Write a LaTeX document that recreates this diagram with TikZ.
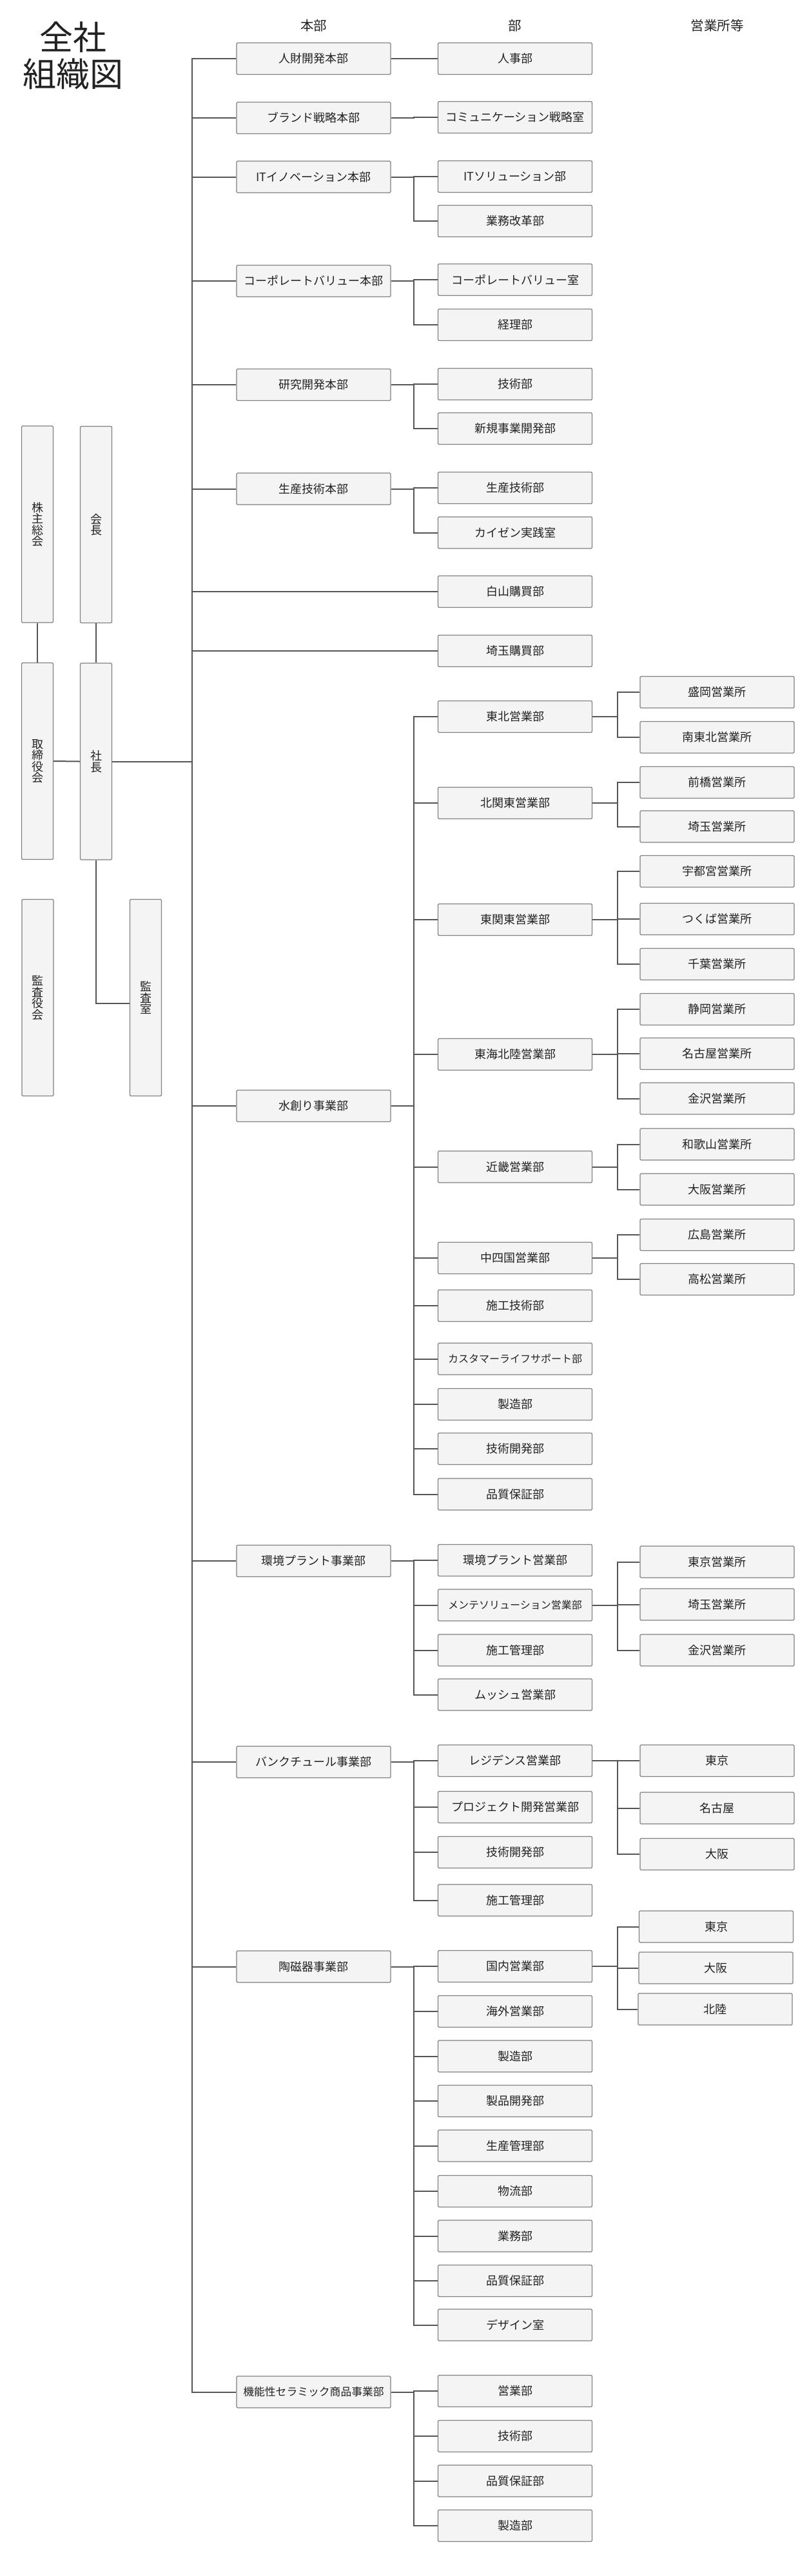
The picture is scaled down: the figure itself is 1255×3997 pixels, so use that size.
\documentclass[tikz,border=0pt]{standalone}
\usepackage{fontspec}
\setmainfont{Noto Sans CJK JP}
\definecolor{boxfill}{HTML}{F4F4F4}
\definecolor{boxline}{HTML}{808080}
\definecolor{connc}{HTML}{555555}
\definecolor{txt}{HTML}{222222}
\tikzset{
  unitbox/.style={draw=boxline, fill=boxfill, line width=1.2pt, rounded corners=1.5pt,
    inner sep=0pt, text=txt, align=center, font=\fontsize{18}{20}\selectfont},
  colbox/.style={unitbox, minimum width=239pt, minimum height=49pt},
  tallbox/.style={unitbox, minimum width=49pt, minimum height=305pt, font=\fontsize{18}{17.5}\selectfont},
  small/.style={font=\fontsize{16}{18}\selectfont},
  conn/.style={draw=connc, line width=2pt},
  header/.style={text=txt, font=\fontsize{20.5}{22}\selectfont, inner sep=0pt},
  titletext/.style={text=txt, font=\fontsize{52}{57}\selectfont, align=center, inner sep=0pt}
}
\newcommand\orgbranch[3]{\foreach \kid in {#3}{\draw[conn] (#1.east) -- ++(#2,0) |- (\kid.west);}}
\begin{document}
\begin{tikzpicture}[x=1pt,y=-1pt]
\useasboundingbox (0,0) rectangle (1255,3997);
% title and headers
\node[titletext] (title) at (113,86.75) {全社\\組織図};
\node[header] (hdA) at (486.5,40) {本部};
\node[header] (hdB) at (799,40) {部};
\node[header] (hdC) at (1112.5,40) {営業所等};
% left column
\node[tallbox] (share) at (58,813.5) {株\\主\\総\\会};
\node[tallbox] (chair) at (149,814) {会\\長};
\node[tallbox] (board) at (58,1181) {取\\締\\役\\会};
\node[tallbox] (pres) at (149,1181.5) {社\\長};
\node[tallbox] (kansa) at (58.5,1548) {監\\査\\役\\会};
\node[tallbox] (audit) at (226,1548) {監\\査\\室};
% column A
\node[colbox] (h1) at (486.5,91) {人財開発本部};
\node[colbox] (h2) at (486.5,183) {ブランド戦略本部};
\node[colbox] (h3) at (486.5,274.5) {ITイノベーション本部};
\node[colbox] (h4) at (486.5,436) {コーポレートバリュー本部};
\node[colbox] (h5) at (486.5,597) {研究開発本部};
\node[colbox] (h6) at (486.5,758.5) {生産技術本部};
\node[colbox] (h7) at (486.5,1716) {水創り事業部};
\node[colbox] (h8) at (486.5,2422) {環境プラント事業部};
\node[colbox] (h9) at (486.5,2734) {バンクチュール事業部};
\node[colbox] (h10) at (486.5,3051.5) {陶磁器事業部};
\node[colbox, font=\fontsize{16.8}{18}\selectfont] (h11) at (486.5,3711.5) {機能性セラミック商品事業部};
% column B
\node[colbox] (b1) at (799,91) {人事部};
\node[colbox] (b2) at (799,182) {コミュニケーション戦略室};
\node[colbox] (b3) at (799,274) {ITソリューション部};
\node[colbox] (b4) at (799,343) {業務改革部};
\node[colbox] (b5) at (799,434) {コーポレートバリュー室};
\node[colbox] (b6) at (799,504) {経理部};
\node[colbox] (b7) at (799,596) {技術部};
\node[colbox] (b8) at (799,665) {新規事業開発部};
\node[colbox] (b9) at (799,757) {生産技術部};
\node[colbox] (b10) at (799,826.5) {カイゼン実践室};
\node[colbox] (b11) at (799,918) {白山購買部};
\node[colbox] (b12) at (799,1010) {埼玉購買部};
\node[colbox] (b13) at (799,1112) {東北営業部};
\node[colbox] (b14) at (799,1246) {北関東営業部};
\node[colbox] (b15) at (799,1427) {東関東営業部};
\node[colbox] (b16) at (799,1636) {東海北陸営業部};
\node[colbox] (b17) at (799,1810.5) {近畿営業部};
\node[colbox] (b18) at (799,1952) {中四国営業部};
\node[colbox] (b19) at (799,2026) {施工技術部};
\node[colbox, small] (b20) at (799,2108.5) {カスタマーライフサポート部};
\node[colbox] (b21) at (799,2179) {製造部};
\node[colbox] (b22) at (799,2248) {技術開発部};
\node[colbox] (b23) at (799,2318.5) {品質保証部};
\node[colbox] (b24) at (799,2421) {環境プラント営業部};
\node[colbox, small] (b25) at (799,2490.5) {メンテソリューション営業部};
\node[colbox] (b26) at (799,2560.5) {施工管理部};
\node[colbox] (b27) at (799,2629.5) {ムッシュ営業部};
\node[colbox] (b28) at (799,2732) {レジデンス営業部};
\node[colbox] (b29) at (799,2804) {プロジェクト開発営業部};
\node[colbox] (b30) at (799,2874) {技術開発部};
\node[colbox] (b31) at (799,2948.5) {施工管理部};
\node[colbox] (b32) at (799,3051) {国内営業部};
\node[colbox] (b33) at (799,3121) {海外営業部};
\node[colbox] (b34) at (799,3190.5) {製造部};
\node[colbox] (b35) at (799,3260) {製品開発部};
\node[colbox] (b36) at (799,3329.5) {生産管理部};
\node[colbox] (b37) at (799,3400) {物流部};
\node[colbox] (b38) at (799,3469.5) {業務部};
\node[colbox] (b39) at (799,3539) {品質保証部};
\node[colbox] (b40) at (799,3607.5) {デザイン室};
\node[colbox] (b41) at (799,3710) {営業部};
\node[colbox] (b42) at (799,3780) {技術部};
\node[colbox] (b43) at (799,3849.5) {品質保証部};
\node[colbox] (b44) at (799,3919) {製造部};
% column C
\node[colbox] (c1) at (1112.5,1074) {盛岡営業所};
\node[colbox] (c2) at (1112.5,1144) {南東北営業所};
\node[colbox] (c3) at (1112.5,1214) {前橋営業所};
\node[colbox] (c4) at (1112.5,1282.5) {埼玉営業所};
\node[colbox] (c5) at (1112.5,1352) {宇都宮営業所};
\node[colbox] (c6) at (1112.5,1426) {つくば営業所};
\node[colbox] (c7) at (1112.5,1496) {千葉営業所};
\node[colbox] (c8) at (1112.5,1566) {静岡営業所};
\node[colbox] (c9) at (1112.5,1635) {名古屋営業所};
\node[colbox] (c10) at (1112.5,1704.5) {金沢営業所};
\node[colbox] (c11) at (1112.5,1775.5) {和歌山営業所};
\node[colbox] (c12) at (1112.5,1845.5) {大阪営業所};
\node[colbox] (c13) at (1112.5,1916) {広島営業所};
\node[colbox] (c14) at (1112.5,1985) {高松営業所};
\node[colbox] (c15) at (1112.5,2423.5) {東京営業所};
\node[colbox] (c16) at (1112.5,2489.5) {埼玉営業所};
\node[colbox] (c17) at (1112.5,2560.5) {金沢営業所};
\node[colbox] (c18) at (1112.5,2732) {東京};
\node[colbox] (c19) at (1112.5,2805.5) {名古屋};
\node[colbox] (c20) at (1112.5,2877) {大阪};
\node[colbox] (c21) at (1111,2989.5) {東京};
\node[colbox] (c22) at (1110.5,3053.5) {大阪};
\node[colbox] (c23) at (1109.5,3117.5) {北陸};
% left connectors
\draw[conn] (share.south) -- (board.north);
\draw[conn] (chair.south) -- (pres.north);
\draw[conn] (board.east) -- (pres.west);
\draw[conn] (pres.south) |- ([yshift=-9pt]audit.west);
% main trunk
\orgbranch{pres}{123.5}{h1,h2,h3,h4,h5,h6,b11,b12,h7,h8,h9,h10,h11}
% column A to B
\orgbranch{h1}{35.5}{b1}
\orgbranch{h2}{35.5}{b2}
\orgbranch{h3}{35.5}{b3,b4}
\orgbranch{h4}{35.5}{b5,b6}
\orgbranch{h5}{35.5}{b7,b8}
\orgbranch{h6}{35.5}{b9,b10}
\orgbranch{h7}{35.5}{b13,b14,b15,b16,b17,b18,b19,b20,b21,b22,b23}
\orgbranch{h8}{35.5}{b24,b25,b26,b27}
\orgbranch{h9}{35.5}{b28,b29,b30,b31}
\orgbranch{h10}{35.5}{b32,b33,b34,b35,b36,b37,b38,b39,b40}
\orgbranch{h11}{35.5}{b41,b42,b43,b44}
% column B to C
\orgbranch{b13}{38.5}{c1,c2}
\orgbranch{b14}{38.5}{c3,c4}
\orgbranch{b15}{38.5}{c5,c6,c7}
\orgbranch{b16}{38.5}{c8,c9,c10}
\orgbranch{b17}{38.5}{c11,c12}
\orgbranch{b18}{38.5}{c13,c14}
\orgbranch{b25}{38.5}{c15,c16,c17}
\orgbranch{b28}{38.5}{c18,c19,c20}
\orgbranch{b32}{38.5}{c21,c22,c23}
\end{tikzpicture}
\end{document}
